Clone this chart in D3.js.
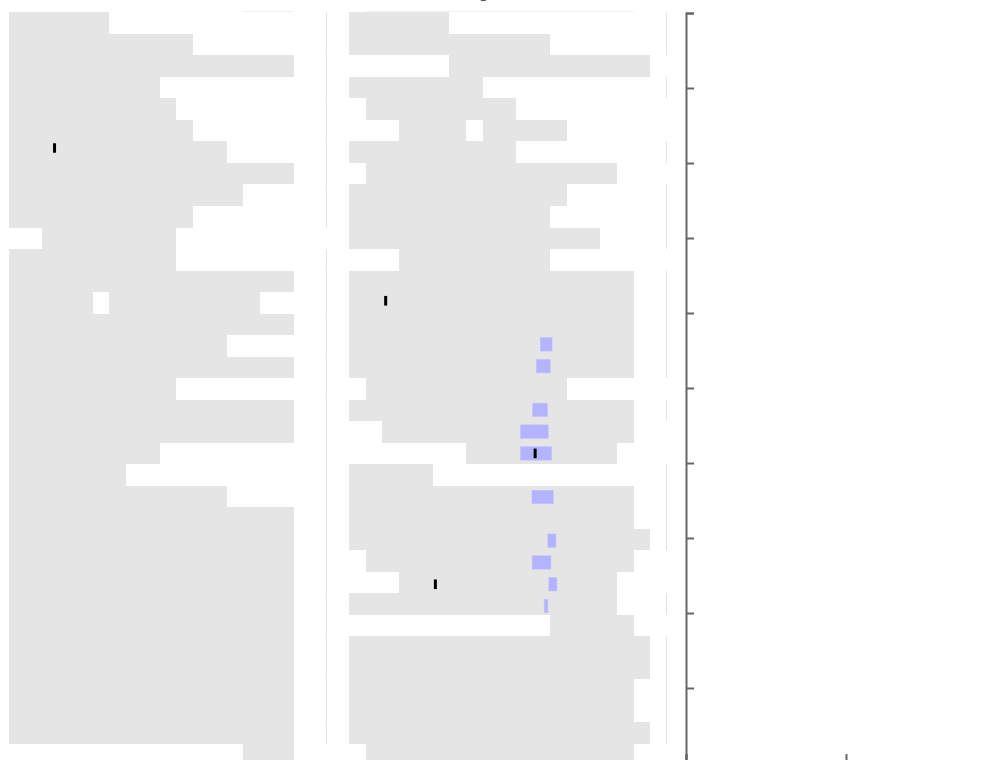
<!DOCTYPE html>
<html>
<head>
<meta charset="utf-8">
<script src="https://cdn.jsdelivr.net/npm/d3@7"></script>
<style>
  html, body { margin: 0; padding: 0; background: #fff; }
  svg { display: block; font-family: "DejaVu Sans", sans-serif; }
</style>
</head>
<body>
<div id="chart"></div>
<script>
// row ids, -1 is the row cut off by the top of the plot
const rowIds = [-1,0,1,2,3,4,5,6,7,8,9,10,11,12,13,14,15,16,17,18,19,20,21,22,23,24,25,26,27,28,29,30,31,32,33,34];

// gray ranges in the left panel, one list of [start, end] per row
const leftRanges = [
  [[14,17]],
  [[0,6]], [[0,11]], [[0,17]], [[0,9]], [[0,10]], [[0,11]], [[0,13]], [[0,17]], [[0,14]], [[0,11]],
  [[2,10]], [[0,10]], [[0,17]], [[0,5],[6,15]], [[0,17]], [[0,13]], [[0,17]], [[0,10]], [[0,17]], [[0,17]],
  [[0,9]], [[0,7]], [[0,13]], [[0,17]], [[0,17]], [[0,17]], [[0,17]], [[0,17]], [[0,17]], [[0,17]],
  [[0,17]], [[0,17]], [[0,17]], [[0,17]], [[14,17]]
];

// gray ranges in the middle panel
const midRanges = [
  [[1,17]],
  [[0,6]], [[0,12]], [[6,18]], [[0,8]], [[1,10]], [[3,7],[8,13]], [[0,10]], [[1,16]], [[0,13]], [[0,12]],
  [[0,15]], [[3,12]], [[0,17]], [[0,17]], [[0,17]], [[0,17]], [[0,17]], [[1,13]], [[0,17]], [[2,17]],
  [[7,16]], [[0,5]], [[0,17]], [[0,17]], [[0,18]], [[1,17]], [[3,16]], [[0,16]], [[12,17]], [[0,18]],
  [[0,18]], [[0,17]], [[0,17]], [[0,18]], [[1,17]]
];

// blue intervals (middle panel)
const blueRows = [15, 16, 18, 19, 20, 22, 24, 25, 26, 27];
const blueLow  = [11.43, 11.19, 10.97, 10.25, 10.25, 10.93, 11.88, 10.94, 11.94, 11.66];
const blueHigh = [12.13, 12.02, 11.86, 11.90, 12.10, 12.20, 12.36, 12.06, 12.42, 11.88];

// black point markers
const markPanel  = ["left", "mid", "mid", "mid"];
const markRows   = [6, 13, 20, 26];
const markValues = [2.72, 2.19, 11.12, 5.16];

// right panel axes (no labels)
const axisTicksY = [0,1,2,3,4,5,6,7,8,9,10];
const axisTicksX = [0,1,2];

const width = 997;
const height = 760;
const rowTop = 12.3;
const rowStep = 21.52;
const markStep = 21.81;

const svg = d3.select("#chart")
  .append("svg")
  .attr("width", width)
  .attr("height", height);

svg.append("text")
  .attr("x", 489)
  .attr("y", -2.5)
  .attr("text-anchor", "end")
  .attr("font-size", 16)
  .attr("fill", "#555")
  .text("Timing");

const yRow = d3.scaleLinear().domain([-1, 35]).range([rowTop - rowStep, rowTop + 35 * rowStep]);
const yMark = d3.scaleLinear().domain([0, 34]).range([17.2, 17.2 + 34 * markStep]);
const xLeft = d3.scaleLinear().domain([0, 19]).range([9, 9 + 19 * 16.74]);
const xMid = d3.scaleLinear().domain([0, 19]).range([349, 349 + 19 * 16.74]);
const xScales = {left: xLeft, mid: xMid};

svg.append("clipPath").attr("id", "plotClip")
  .append("rect").attr("x", 0).attr("y", 11.5).attr("width", 680).attr("height", 760);

const plot = svg.append("g").attr("clip-path", "url(#plotClip)");

function drawPanel(ranges, x){
  const g = plot.append("g");
  const rows = g.selectAll(".row").data(rowIds.map((id, i) => ({id: id, segs: ranges[i]})))
    .enter().append("g").attr("class", "row");
  rows.selectAll("rect").data(d => d.segs.map(s => ({id: d.id, s: s})))
    .enter().append("rect")
    .attr("x", d => x(d.s[0]))
    .attr("width", d => x(d.s[1]) - x(d.s[0]))
    .attr("y", d => yRow(d.id))
    .attr("height", d => yRow(d.id + 1) - yRow(d.id))
    .attr("fill", "#e5e5e5")
    .attr("shape-rendering", "crispEdges");
  // faint right edge of the row frame, only when the row starts at 0
  rows.filter(d => d.segs[0][0] === 0)
    .append("line")
    .attr("x1", x(19) - 0.5).attr("x2", x(19) - 0.5)
    .attr("y1", d => yRow(d.id)).attr("y2", d => yRow(d.id + 1))
    .attr("stroke", "#e3e3e3")
    .attr("stroke-width", 1);
}
drawPanel(leftRanges, xLeft);
drawPanel(midRanges, xMid);

plot.selectAll(".blue").data(blueRows)
  .enter().append("rect").attr("class", "blue")
  .attr("x", (d, i) => xMid(blueLow[i]))
  .attr("width", (d, i) => xMid(blueHigh[i]) - xMid(blueLow[i]))
  .attr("y", d => yMark(d) - 6.7)
  .attr("height", 13.4)
  .attr("fill", "#b3b3ff")
  .attr("stroke", "#c0c0fb")
  .attr("stroke-width", 0.6);

plot.selectAll(".mark").data(markRows)
  .enter().append("line").attr("class", "mark")
  .attr("x1", (d, i) => xScales[markPanel[i]](markValues[i]))
  .attr("x2", (d, i) => xScales[markPanel[i]](markValues[i]))
  .attr("y1", d => yMark(d) - 4.8)
  .attr("y2", d => yMark(d) + 4.8)
  .attr("stroke", "#000")
  .attr("stroke-width", 3);

// right panel axes
const yAxisScale = d3.scaleLinear().domain([10, 0]).range([13, 763]);
const xAxisScale = d3.scaleLinear().domain([0, 2]).range([686, 1006]);

const yAxis = svg.append("g")
  .attr("transform", "translate(686,0)")
  .call(d3.axisRight(yAxisScale).tickValues(axisTicksY).tickFormat("").tickSize(8));
const xAxis = svg.append("g")
  .attr("transform", "translate(0,762)")
  .call(d3.axisTop(xAxisScale).tickValues(axisTicksX).tickFormat("").tickSize(8));

[yAxis, xAxis].forEach(a => {
  a.selectAll("path, line").attr("stroke", "#666").attr("stroke-width", 2);
});
</script>
</body>
</html>
